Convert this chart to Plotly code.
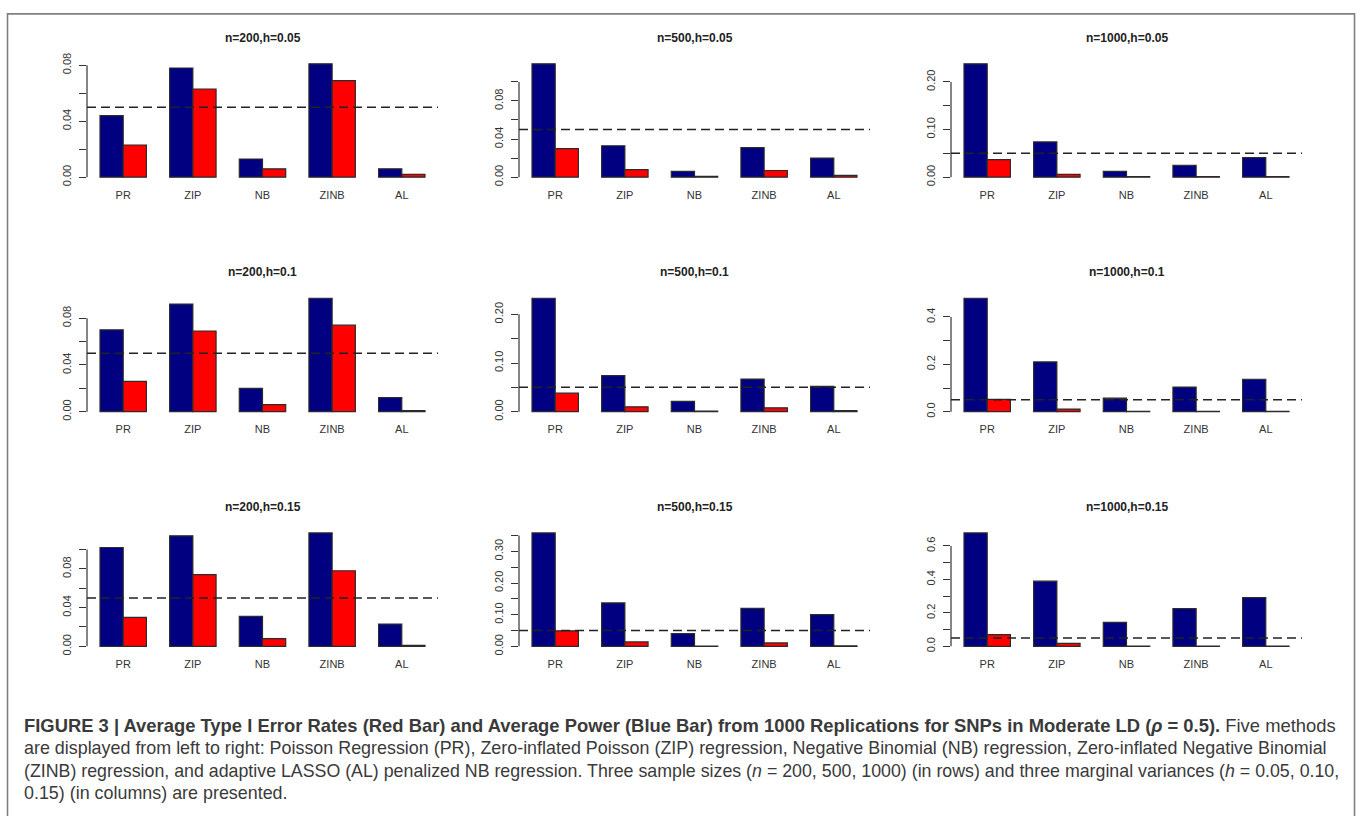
import plotly.graph_objects as go

# ---------------- data ----------------
methods = ["PR", "ZIP", "NB", "ZINB", "AL"]
n_values = [200, 500, 1000]
h_labels = ["0.05", "0.1", "0.15"]
alpha_level = 0.05

# average power (blue bars)
power_n200_h005 = [0.044, 0.078, 0.013, 0.081, 0.006]
power_n500_h005 = [0.119, 0.033, 0.006, 0.031, 0.020]
power_n1000_h005 = [0.238, 0.074, 0.012, 0.025, 0.041]
power_n200_h010 = [0.070, 0.092, 0.020, 0.097, 0.012]
power_n500_h010 = [0.233, 0.074, 0.021, 0.067, 0.052]
power_n1000_h010 = [0.479, 0.210, 0.057, 0.104, 0.137]
power_n200_h015 = [0.102, 0.114, 0.031, 0.117, 0.023]
power_n500_h015 = [0.358, 0.137, 0.040, 0.120, 0.100]
power_n1000_h015 = [0.678, 0.390, 0.143, 0.226, 0.291]

# average type I error (red bars)
type1_n200_h005 = [0.023, 0.063, 0.006, 0.069, 0.002]
type1_n500_h005 = [0.030, 0.008, 0.001, 0.007, 0.002]
type1_n1000_h005 = [0.037, 0.006, 0.001, 0.001, 0.001]
type1_n200_h010 = [0.026, 0.069, 0.006, 0.074, 0.001]
type1_n500_h010 = [0.038, 0.010, 0.001, 0.008, 0.002]
type1_n1000_h010 = [0.052, 0.011, 0.001, 0.001, 0.001]
type1_n200_h015 = [0.030, 0.074, 0.008, 0.078, 0.001]
type1_n500_h015 = [0.049, 0.014, 0.001, 0.011, 0.002]
type1_n1000_h015 = [0.070, 0.018, 0.001, 0.001, 0.001]

# y tick values / labels per panel
yt_a = [0.00, 0.02, 0.04, 0.06, 0.08]
yl_a = ["0.00", "", "0.04", "", "0.08"]
yt_b = [0.00, 0.02, 0.04, 0.06, 0.08, 0.10]
yl_b = ["0.00", "", "0.04", "", "0.08", ""]
yt_c = [0.00, 0.05, 0.10, 0.15, 0.20]
yl_c = ["0.00", "", "0.10", "", "0.20"]
yt_d = [0.0, 0.1, 0.2, 0.3, 0.4]
yl_d = ["0.0", "", "0.2", "", "0.4"]
yt_e = [0.00, 0.05, 0.10, 0.15, 0.20, 0.25, 0.30, 0.35]
yl_e = ["0.00", "", "0.10", "", "0.20", "", "0.30", ""]
yt_f = [0.0, 0.1, 0.2, 0.3, 0.4, 0.5, 0.6]
yl_f = ["0.0", "", "0.2", "", "0.4", "", "0.6"]

panels = [
    # row 1 (h = 0.05)
    (power_n200_h005, type1_n200_h005, yt_a, yl_a),
    (power_n500_h005, type1_n500_h005, yt_b, yl_b),
    (power_n1000_h005, type1_n1000_h005, yt_c, yl_c),
    # row 2 (h = 0.1)
    (power_n200_h010, type1_n200_h010, yt_a, yl_a),
    (power_n500_h010, type1_n500_h010, yt_c, yl_c),
    (power_n1000_h010, type1_n1000_h010, yt_d, yl_d),
    # row 3 (h = 0.15)
    (power_n200_h015, type1_n200_h015, yt_b, yl_b),
    (power_n500_h015, type1_n500_h015, yt_e, yl_e),
    (power_n1000_h015, type1_n1000_h015, yt_f, yl_f),
]

caption_lines = [
    "<b>FIGURE 3 | Average Type I Error Rates (Red Bar) and Average Power (Blue Bar) from 1000 Replications for SNPs in Moderate LD (<i>ρ</i> = 0.5).</b> Five methods",
    "are displayed from left to right: Poisson Regression (PR), Zero-inflated Poisson (ZIP) regression, Negative Binomial (NB) regression, Zero-inflated Negative Binomial",
    "(ZINB) regression, and adaptive LASSO (AL) penalized NB regression. Three sample sizes (<i>n</i> = 200, 500, 1000) (in rows) and three marginal variances (<i>h</i> = 0.05, 0.10,",
    "0.15) (in columns) are presented.",
]

# ---------------- layout geometry (pixels) ----------------
W, H = 1360, 816
col_px = [(87, 438), (519, 870), (951, 1302)]
row_px = [(53.9, 177.9), (291.3, 415.3), (528.9, 652.9)]
title_offset = 22
caption_y = [728, 751, 774, 797]
caption_size = [18.4, 17.9, 17.8, 17.9]
caption_x = 22

BLUE = "#000080"
RED = "#FF0000"
EDGE = "#2b2b2b"
TXT = "#333333"
FONT = "Liberation Sans, Arial, Helvetica, sans-serif"

fig = go.Figure()
layout = dict(
    width=W, height=H,
    margin=dict(l=0, r=0, t=0, b=0),
    paper_bgcolor="white", plot_bgcolor="white",
    showlegend=False, barmode="group", bargap=1/3, bargroupgap=0,
    font=dict(family=FONT, color=TXT),
)
shapes = []
annotations = []

for k, (pw, t1, ytv, ytl) in enumerate(panels):
    r, c = divmod(k, 3)
    idx = "" if k == 0 else str(k + 1)
    xa, ya = "x" + idx, "y" + idx
    x0p, x1p = col_px[c]
    y0p, y1p = row_px[r]
    ymax = max(pw + t1)

    fig.add_trace(go.Bar(x=methods, y=pw, xaxis=xa, yaxis=ya,
                         marker=dict(color=BLUE, line=dict(color=EDGE, width=1.2)),
                         name="Power", hoverinfo="x+y"))
    fig.add_trace(go.Bar(x=methods, y=t1, xaxis=xa, yaxis=ya,
                         marker=dict(color=RED, line=dict(color=EDGE, width=1.2)),
                         name="Type I error", hoverinfo="x+y"))

    layout["xaxis" + idx] = dict(
        domain=[x0p / W, x1p / W], anchor=ya,
        range=[-0.52, 4.52], showgrid=False, zeroline=False, showline=False,
        ticks="", ticklabelstandoff=5,
        tickfont=dict(size=11, color=TXT, family=FONT), fixedrange=True,
    )
    layout["yaxis" + idx] = dict(
        domain=[1 - y1p / H, 1 - y0p / H], anchor=xa,
        range=[-0.04 * ymax, 1.04 * ymax], showgrid=False, zeroline=False,
        showline=False, ticks="outside", ticklen=7, tickwidth=1.2, tickcolor=TXT,
        tickvals=ytv, ticktext=ytl, tickangle=-90, ticklabelstandoff=4,
        tickfont=dict(size=11, color=TXT, family=FONT), fixedrange=True,
    )
    # axis line spanning first to last tick (R style)
    shapes.append(dict(type="line", xref=xa + " domain", yref=ya,
                       x0=0, x1=0, y0=ytv[0], y1=ytv[-1],
                       line=dict(color=TXT, width=1.2)))
    # dashed nominal level line
    shapes.append(dict(type="line", xref=xa + " domain", yref=ya,
                       x0=0, x1=1, y0=alpha_level, y1=alpha_level,
                       line=dict(color="#222222", width=1.5, dash="9px,5px")))
    # panel title
    annotations.append(dict(
        text=f"<b>n={n_values[c]},h={h_labels[r]}</b>",
        xref="paper", yref="paper",
        x=(x0p + x1p) / 2 / W, y=1 - (y0p - title_offset) / H,
        xanchor="center", yanchor="middle", showarrow=False,
        font=dict(size=12, color="#222222", family=FONT)))

# outer frame
shapes.append(dict(type="rect", xref="paper", yref="paper",
                   x0=7.5 / W, x1=1354.5 / W, y0=-0.02, y1=1 - 8 / H,
                   line=dict(color="#808080", width=1.6), fillcolor="rgba(0,0,0,0)",
                   layer="above"))

for i, line in enumerate(caption_lines):
    annotations.append(dict(
        text=line, xref="paper", yref="paper",
        x=caption_x / W, y=1 - caption_y[i] / H,
        xanchor="left", yanchor="middle", showarrow=False, align="left",
        font=dict(size=caption_size[i], color="#3a3a3a", family=FONT)))

layout["shapes"] = shapes
layout["annotations"] = annotations
fig.update_layout(**layout)

fig.write_html("out.html")
